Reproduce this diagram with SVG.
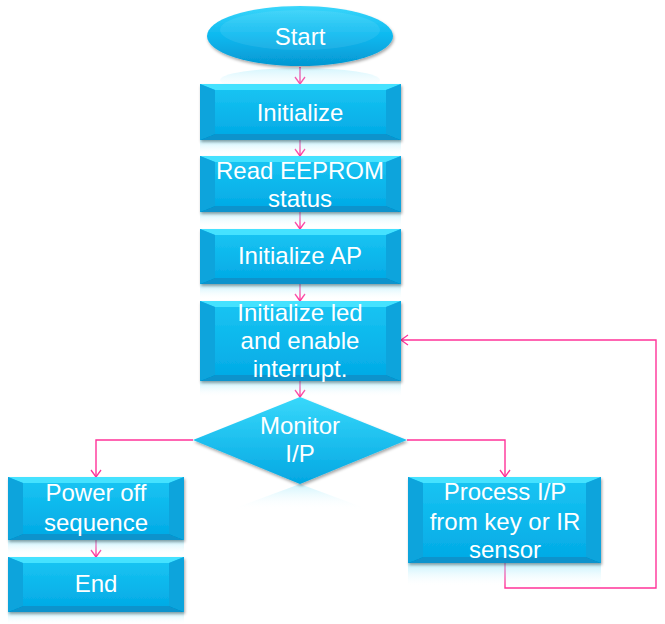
<svg xmlns="http://www.w3.org/2000/svg" width="665" height="624" viewBox="0 0 665 624">
<defs>
<linearGradient id="face" x1="0" y1="0" x2="0" y2="1">
<stop offset="0" stop-color="#17c3f2"/>
<stop offset="1" stop-color="#03abe6"/>
</linearGradient>
<linearGradient id="ell" x1="0" y1="0" x2="0" y2="1">
<stop offset="0" stop-color="#3ad6fb"/>
<stop offset="0.5" stop-color="#0bb8ef"/>
<stop offset="1" stop-color="#0597d2"/>
</linearGradient>
<linearGradient id="dia" x1="0" y1="0" x2="0" y2="1">
<stop offset="0" stop-color="#38d8fb"/>
<stop offset="1" stop-color="#03a7e2"/>
</linearGradient>
<linearGradient id="refl" x1="0" y1="0" x2="0" y2="1">
<stop offset="0" stop-color="#8fe6fb" stop-opacity="0.55"/>
<stop offset="1" stop-color="#ffffff" stop-opacity="0"/>
</linearGradient>
<filter id="sh" x="-10%" y="-10%" width="120%" height="130%">
<feDropShadow dx="1" dy="2" stdDeviation="1.5" flood-color="#000" flood-opacity="0.35"/>
</filter>
<marker id="arr" viewBox="0 0 12 12" refX="11" refY="6" markerWidth="12" markerHeight="12" markerUnits="userSpaceOnUse" orient="auto">
<path d="M4,1 L11,6 L4,11" fill="none" stroke="#ff3399" stroke-width="1.3"/>
</marker>
</defs>
<style>
.t{font-family:"Liberation Sans",Arial,sans-serif;font-size:24px;fill:#ffffff;text-anchor:middle}
.face{fill:url(#face)}
.btop{fill:#45e2ff}
.bside{fill:#0aa4dc}
.bbot{fill:#0793cc}
.refl{fill:url(#refl)}
.c{fill:none;stroke:#ff3399;stroke-width:1.4}
</style>

<g id="connectors">
<line class="c" x1="300" y1="67" x2="300" y2="84" marker-end="url(#arr)"/>
<line class="c" x1="300" y1="140" x2="300" y2="156" marker-end="url(#arr)"/>
<line class="c" x1="300" y1="212" x2="300" y2="229" marker-end="url(#arr)"/>
<line class="c" x1="300" y1="284" x2="300" y2="301" marker-end="url(#arr)"/>
<line class="c" x1="300" y1="381" x2="300" y2="397" marker-end="url(#arr)"/>
<polyline class="c" points="193,440 96,440 96,477" marker-end="url(#arr)"/>
<polyline class="c" points="407,440 505,440 505,477" marker-end="url(#arr)"/>
<line class="c" x1="96" y1="540" x2="96" y2="557" marker-end="url(#arr)"/>
<polyline class="c" points="505,563 505,588 656,588 656,340 401,340" marker-end="url(#arr)"/>
</g>

<g id="start">
<ellipse class="refl" cx="300" cy="80" rx="80" ry="12" opacity="0.7"/>
<ellipse cx="300" cy="36" rx="93" ry="30" fill="url(#ell)" filter="url(#sh)"/>
<ellipse cx="300" cy="30" rx="80" ry="20" fill="#ffffff" opacity="0.08"/>
<text class="t" x="300" y="45">Start</text>
</g>

<g id="initialize">
<rect class="refl" x="200" y="140" width="201" height="16"/>
<g filter="url(#sh)">
<rect class="face" x="200" y="84" width="201" height="56"/>
<polygon class="btop" points="200,84 401,84 386,90 215,90"/>
<polygon class="bside" points="200,84 215,90 215,134 200,140"/>
<polygon class="bside" points="401,84 386,90 386,134 401,140"/>
<polygon class="bbot" points="200,140 215,134 386,134 401,140"/>
<rect class="face" x="215" y="90" width="171" height="44"/>
</g>
<text class="t" x="300" y="121">Initialize</text>
</g>

<g id="read-eeprom">
<rect class="refl" x="200" y="212" width="201" height="16"/>
<g filter="url(#sh)">
<rect class="face" x="200" y="156" width="201" height="56"/>
<polygon class="btop" points="200,156 401,156 386,162 215,162"/>
<polygon class="bside" points="200,156 215,162 215,206 200,212"/>
<polygon class="bside" points="401,156 386,162 386,206 401,212"/>
<polygon class="bbot" points="200,212 215,206 386,206 401,212"/>
<rect class="face" x="215" y="162" width="171" height="44"/>
</g>
<text class="t" x="300" y="179">Read EEPROM</text>
<text class="t" x="300" y="207">status</text>
</g>

<g id="initialize-ap">
<rect class="refl" x="200" y="284" width="201" height="16"/>
<g filter="url(#sh)">
<rect class="face" x="200" y="229" width="201" height="55"/>
<polygon class="btop" points="200,229 401,229 386,235 215,235"/>
<polygon class="bside" points="200,229 215,235 215,278 200,284"/>
<polygon class="bside" points="401,229 386,235 386,278 401,284"/>
<polygon class="bbot" points="200,284 215,278 386,278 401,284"/>
<rect class="face" x="215" y="235" width="171" height="43"/>
</g>
<text class="t" x="300" y="264">Initialize AP</text>
</g>

<g id="initialize-led">
<rect class="refl" x="200" y="381" width="201" height="16"/>
<g filter="url(#sh)">
<rect class="face" x="200" y="301" width="201" height="80"/>
<polygon class="btop" points="200,301 401,301 386,307 215,307"/>
<polygon class="bside" points="200,301 215,307 215,375 200,381"/>
<polygon class="bside" points="401,301 386,307 386,375 401,381"/>
<polygon class="bbot" points="200,381 215,375 386,375 401,381"/>
<rect class="face" x="215" y="307" width="171" height="68"/>
</g>
<text class="t" x="300" y="321">Initialize led</text>
<text class="t" x="300" y="349">and enable</text>
<text class="t" x="300" y="377">interrupt.</text>
</g>

<g id="monitor">
<polygon class="refl" points="230,510 300,484 370,510" opacity="0.8"/>
<polygon points="300,397 407,440 300,484 193,440" fill="url(#dia)" filter="url(#sh)"/>
<text class="t" x="300" y="434">Monitor</text>
<text class="t" x="300" y="462">I/P</text>
</g>

<g id="power-off">
<rect class="refl" x="8" y="540" width="176" height="16"/>
<g filter="url(#sh)">
<rect class="face" x="8" y="477" width="176" height="63"/>
<polygon class="btop" points="8,477 184,477 169,483 23,483"/>
<polygon class="bside" points="8,477 23,483 23,534 8,540"/>
<polygon class="bside" points="184,477 169,483 169,534 184,540"/>
<polygon class="bbot" points="8,540 23,534 169,534 184,540"/>
<rect class="face" x="23" y="483" width="146" height="51"/>
</g>
<text class="t" x="96" y="501">Power off</text>
<text class="t" x="96" y="531">sequence</text>
</g>

<g id="end">
<rect class="refl" x="8" y="612" width="176" height="12"/>
<g filter="url(#sh)">
<rect class="face" x="8" y="557" width="176" height="55"/>
<polygon class="btop" points="8,557 184,557 169,563 23,563"/>
<polygon class="bside" points="8,557 23,563 23,606 8,612"/>
<polygon class="bside" points="184,557 169,563 169,606 184,612"/>
<polygon class="bbot" points="8,612 23,606 169,606 184,612"/>
<rect class="face" x="23" y="563" width="146" height="43"/>
</g>
<text class="t" x="96" y="592">End</text>
</g>

<g id="process">
<rect class="refl" x="408" y="563" width="193" height="24"/>
<g filter="url(#sh)">
<rect class="face" x="408" y="477" width="193" height="86"/>
<polygon class="btop" points="408,477 601,477 586,483 423,483"/>
<polygon class="bside" points="408,477 423,483 423,557 408,563"/>
<polygon class="bside" points="601,477 586,483 586,557 601,563"/>
<polygon class="bbot" points="408,563 423,557 586,557 601,563"/>
<rect class="face" x="423" y="483" width="163" height="74"/>
</g>
<text class="t" x="505" y="500">Process I/P</text>
<text class="t" x="505" y="530">from key or IR</text>
<text class="t" x="505" y="558">sensor</text>
</g>
</svg>
